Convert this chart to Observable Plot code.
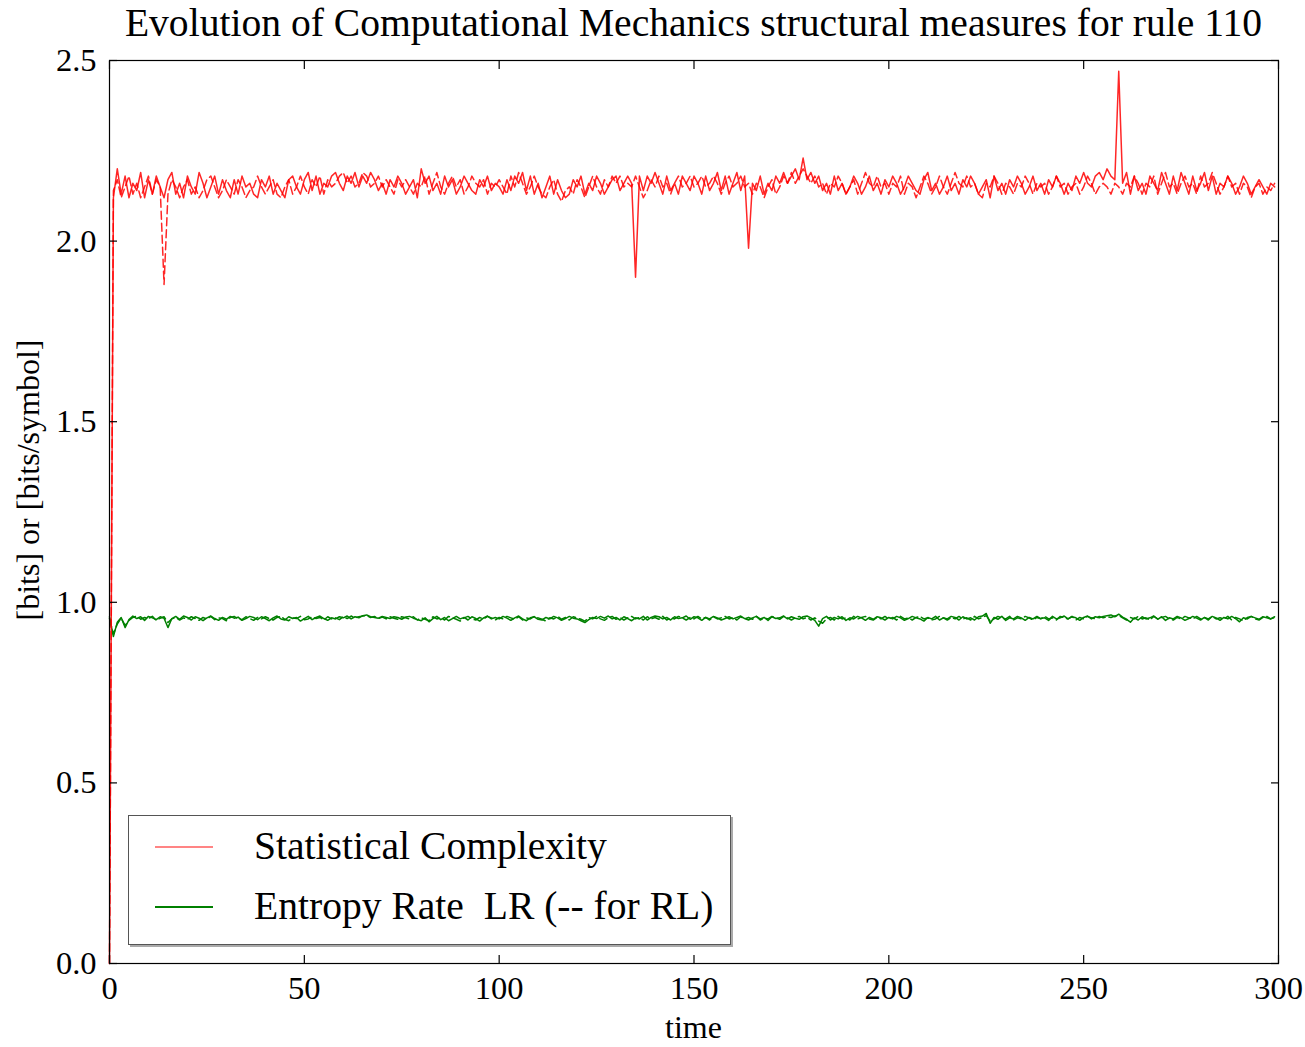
<!DOCTYPE html>
<html><head><meta charset="utf-8">
<script src="https://cdn.jsdelivr.net/npm/d3@7"></script>
<script src="https://cdn.jsdelivr.net/npm/@observablehq/plot@0.6"></script>
<style>
body{margin:0;background:#fff;}
#wrap{position:relative;width:1305px;height:1047px;font-family:"Liberation Serif","Times New Roman",serif;color:#000;overflow:hidden;}
#title{position:absolute;left:109px;width:1169px;top:4px;text-align:center;font-size:39.6px;line-height:39px;white-space:nowrap;}
#chart{position:absolute;left:0;top:50px;}
#xlabel{position:absolute;left:109px;width:1169px;top:1012px;text-align:center;font-size:32px;line-height:31px;}
#ylabel{position:absolute;left:28px;top:480px;transform:translate(-50%,-50%) rotate(-90deg);font-size:32px;line-height:31px;white-space:nowrap;}
#legend{position:absolute;left:128px;top:815px;width:603px;height:130px;border:1.5px solid #555;background:#fff;box-shadow:2px 2px 0 #aaa;box-sizing:border-box;}
.lg-line{position:absolute;left:26px;width:58px;height:0;}
.lg-text{position:absolute;left:125px;font-size:39.6px;line-height:39px;white-space:nowrap;}
</style></head>
<body>
<div id="wrap">
  <div id="title">Evolution of Computational Mechanics structural measures for rule 110</div>
  <div id="chart"></div>
  <div id="xlabel">time</div>
  <div id="ylabel">[bits] or [bits/symbol]</div>
  <div id="legend">
    <div class="lg-line" style="top:30px;border-top:2.5px solid #ff8484;"></div>
    <div class="lg-text" style="top:11px;">Statistical Complexity</div>
    <div class="lg-line" style="top:90px;border-top:2px solid #008000;"></div>
    <div class="lg-text" style="top:71px;">Entropy Rate&nbsp; LR (-- for RL)</div>
  </div>
</div>
<script>
const xTicks = [0, 50, 100, 150, 200, 250, 300];
const yTicks = [0, 0.5, 1.0, 1.5, 2.0, 2.5];

// Statistical complexity, LR (solid)
const complexityLR = [
0.00,2.12,2.20,2.13,2.18,2.12,2.16,2.14,2.19,2.12,2.17,2.13,2.18,2.15,2.12,2.17,2.19,2.13,2.16,2.12,
2.18,2.15,2.13,2.19,2.16,2.12,2.15,2.18,2.13,2.17,2.14,2.12,2.17,2.13,2.18,2.15,2.16,2.13,2.12,2.17,
2.15,2.18,2.13,2.16,2.14,2.12,2.17,2.18,2.15,2.13,2.17,2.19,2.14,2.18,2.13,2.16,2.15,2.18,2.19,2.16,
2.14,2.18,2.16,2.19,2.15,2.18,2.16,2.19,2.17,2.14,2.16,2.13,2.17,2.15,2.18,2.16,2.13,2.15,2.17,2.12,
2.20,2.16,2.18,2.14,2.16,2.13,2.18,2.15,2.17,2.13,2.15,2.18,2.16,2.14,2.13,2.17,2.15,2.18,2.14,2.16,
2.15,2.13,2.17,2.14,2.18,2.16,2.19,2.14,2.18,2.13,2.16,2.12,2.15,2.18,2.13,2.17,2.14,2.12,2.13,2.17,
2.15,2.18,2.13,2.16,2.14,2.18,2.16,2.13,2.15,2.17,2.18,2.14,2.16,2.18,2.16,1.90,2.18,2.14,2.18,2.16,
2.19,2.16,2.13,2.18,2.14,2.16,2.13,2.18,2.16,2.14,2.18,2.16,2.13,2.18,2.14,2.16,2.19,2.14,2.18,2.13,
2.16,2.19,2.14,2.18,1.98,2.16,2.14,2.18,2.13,2.16,2.14,2.18,2.16,2.19,2.16,2.18,2.20,2.17,2.23,2.17,
2.19,2.16,2.18,2.14,2.16,2.13,2.18,2.14,2.16,2.13,2.15,2.18,2.16,2.13,2.15,2.18,2.14,2.16,2.13,2.17,
2.15,2.18,2.16,2.13,2.15,2.18,2.16,2.14,2.13,2.17,2.19,2.14,2.16,2.13,2.15,2.18,2.14,2.16,2.13,2.17,
2.15,2.18,2.16,2.13,2.15,2.17,2.12,2.18,2.14,2.16,2.13,2.17,2.15,2.18,2.16,2.13,2.15,2.18,2.14,2.16,
2.13,2.17,2.15,2.18,2.16,2.13,2.16,2.14,2.18,2.16,2.19,2.16,2.15,2.18,2.19,2.17,2.20,2.18,2.17,2.47,
2.16,2.19,2.13,2.18,2.14,2.16,2.13,2.18,2.16,2.14,2.19,2.16,2.13,2.18,2.14,2.19,2.16,2.13,2.18,2.14,
2.16,2.19,2.14,2.18,2.13,2.16,2.15,2.18,2.16,2.13,2.15,2.18,2.16,2.13,2.15,2.17,2.15,2.13,2.16,2.15
];

// Statistical complexity, RL (dashed)
const complexityRL = [
0.00,2.14,2.17,2.12,2.15,2.18,2.13,2.16,2.12,2.15,2.18,2.13,2.17,2.15,1.88,2.13,2.17,2.15,2.12,2.15,
2.17,2.13,2.15,2.12,2.14,2.17,2.18,2.15,2.12,2.14,2.17,2.15,2.13,2.17,2.15,2.12,2.14,2.15,2.18,2.15,
2.13,2.15,2.17,2.13,2.12,2.15,2.17,2.13,2.15,2.18,2.15,2.13,2.17,2.15,2.18,2.13,2.17,2.15,2.16,2.18,
2.19,2.16,2.18,2.15,2.16,2.19,2.18,2.15,2.16,2.18,2.15,2.17,2.15,2.13,2.17,2.15,2.17,2.15,2.13,2.16,
2.15,2.18,2.13,2.16,2.19,2.15,2.13,2.16,2.18,2.15,2.17,2.13,2.15,2.18,2.16,2.15,2.17,2.13,2.16,2.15,
2.17,2.15,2.13,2.18,2.15,2.19,2.16,2.13,2.15,2.18,2.15,2.13,2.12,2.15,2.17,2.13,2.11,2.14,2.15,2.13,
2.17,2.15,2.12,2.15,2.18,2.15,2.13,2.17,2.15,2.18,2.16,2.18,2.15,2.16,2.15,2.18,2.15,2.12,2.14,2.17,
2.15,2.18,2.15,2.16,2.13,2.16,2.18,2.15,2.16,2.18,2.15,2.16,2.18,2.15,2.16,2.18,2.16,2.13,2.16,2.18,
2.15,2.16,2.18,2.15,2.16,2.13,2.16,2.15,2.12,2.15,2.17,2.13,2.15,2.18,2.16,2.19,2.16,2.18,2.20,2.18,
2.16,2.18,2.15,2.16,2.13,2.16,2.15,2.18,2.16,2.13,2.15,2.17,2.13,2.16,2.19,2.16,2.15,2.18,2.15,2.16,
2.13,2.16,2.15,2.18,2.13,2.16,2.15,2.12,2.15,2.18,2.16,2.13,2.15,2.18,2.15,2.13,2.16,2.19,2.16,2.15,
2.18,2.15,2.16,2.13,2.12,2.16,2.15,2.18,2.16,2.13,2.16,2.15,2.13,2.16,2.15,2.18,2.16,2.13,2.16,2.15,
2.16,2.13,2.15,2.18,2.15,2.16,2.13,2.15,2.16,2.13,2.15,2.18,2.16,2.13,2.15,2.16,2.15,2.13,2.16,2.15,
2.13,2.16,2.15,2.18,2.16,2.13,2.16,2.15,2.18,2.13,2.16,2.19,2.15,2.16,2.13,2.16,2.18,2.15,2.16,2.13,
2.18,2.15,2.16,2.19,2.16,2.13,2.15,2.18,2.15,2.16,2.13,2.16,2.15,2.12,2.15,2.16,2.13,2.15,2.14,2.16
];

// Entropy rate, LR (solid)
const entropyLR = [
0.960,0.905,0.945,0.958,0.930,0.952,0.962,0.955,0.960,0.950,0.961,0.957,0.952,0.960,0.956,0.930,0.955,0.961,0.953,0.962,
0.958,0.951,0.960,0.956,0.949,0.957,0.962,0.955,0.950,0.958,0.953,0.961,0.956,0.959,0.950,0.955,0.961,0.958,0.952,0.960,
0.955,0.949,0.957,0.962,0.954,0.951,0.960,0.955,0.958,0.948,0.955,0.961,0.952,0.958,0.962,0.955,0.950,0.957,0.954,0.960,
0.957,0.962,0.954,0.960,0.957,0.963,0.965,0.960,0.958,0.956,0.961,0.958,0.955,0.960,0.958,0.953,0.959,0.961,0.956,0.952,
0.949,0.957,0.946,0.955,0.961,0.952,0.958,0.949,0.955,0.961,0.954,0.958,0.951,0.960,0.955,0.948,0.957,0.962,0.954,0.958,
0.954,0.961,0.956,0.950,0.957,0.962,0.954,0.949,0.957,0.960,0.953,0.951,0.958,0.954,0.961,0.957,0.950,0.955,0.961,0.956,
0.954,0.949,0.944,0.952,0.958,0.955,0.961,0.956,0.962,0.954,0.958,0.951,0.960,0.955,0.949,0.957,0.954,0.961,0.951,0.958,
0.962,0.960,0.954,0.958,0.951,0.960,0.955,0.957,0.962,0.953,0.960,0.957,0.950,0.958,0.954,0.961,0.957,0.951,0.955,0.960,
0.954,0.958,0.962,0.955,0.951,0.957,0.961,0.954,0.958,0.950,0.960,0.955,0.957,0.962,0.954,0.960,0.956,0.953,0.960,0.962,
0.957,0.950,0.934,0.955,0.961,0.951,0.958,0.954,0.960,0.950,0.957,0.954,0.961,0.957,0.950,0.958,0.953,0.960,0.957,0.951,
0.958,0.954,0.961,0.957,0.950,0.955,0.961,0.957,0.954,0.948,0.958,0.954,0.961,0.951,0.957,0.954,0.961,0.958,0.951,0.960,
0.954,0.957,0.951,0.960,0.962,0.969,0.942,0.958,0.953,0.961,0.950,0.957,0.954,0.961,0.957,0.950,0.958,0.954,0.961,0.955,
0.957,0.950,0.961,0.954,0.957,0.962,0.954,0.960,0.957,0.950,0.958,0.962,0.954,0.960,0.957,0.961,0.963,0.965,0.960,0.967,
0.959,0.953,0.945,0.957,0.951,0.960,0.954,0.957,0.962,0.953,0.960,0.950,0.957,0.954,0.961,0.957,0.950,0.955,0.961,0.956,
0.951,0.958,0.954,0.961,0.957,0.950,0.958,0.954,0.961,0.955,0.946,0.957,0.954,0.961,0.957,0.953,0.960,0.957,0.954,0.960
];

// Entropy rate, RL (dashed)
const entropyRL = [
0.955,0.912,0.940,0.956,0.936,0.950,0.958,0.962,0.953,0.958,0.955,0.961,0.950,0.956,0.960,0.944,0.954,0.958,0.951,0.957,
0.953,0.960,0.955,0.950,0.958,0.954,0.961,0.952,0.957,0.955,0.949,0.958,0.961,0.954,0.952,0.960,0.955,0.950,0.958,0.954,
0.960,0.955,0.951,0.958,0.961,0.953,0.949,0.957,0.955,0.961,0.952,0.954,0.960,0.955,0.958,0.951,0.960,0.954,0.957,0.952,
0.960,0.955,0.962,0.957,0.960,0.962,0.963,0.958,0.961,0.955,0.959,0.954,0.960,0.956,0.953,0.960,0.957,0.954,0.960,0.951,
0.957,0.953,0.949,0.960,0.954,0.957,0.951,0.961,0.957,0.953,0.948,0.957,0.961,0.954,0.951,0.958,0.954,0.961,0.957,0.951,
0.958,0.954,0.961,0.957,0.953,0.960,0.951,0.957,0.954,0.961,0.957,0.953,0.948,0.957,0.954,0.961,0.953,0.958,0.951,0.960,
0.957,0.953,0.948,0.958,0.954,0.961,0.954,0.950,0.957,0.961,0.953,0.958,0.951,0.957,0.961,0.954,0.958,0.951,0.960,0.954,
0.958,0.953,0.961,0.951,0.957,0.954,0.961,0.957,0.951,0.958,0.954,0.961,0.954,0.958,0.951,0.960,0.954,0.957,0.961,0.954,
0.957,0.951,0.960,0.954,0.958,0.953,0.961,0.951,0.957,0.954,0.961,0.957,0.953,0.961,0.957,0.951,0.957,0.961,0.954,0.958,
0.951,0.957,0.948,0.942,0.954,0.958,0.951,0.961,0.954,0.957,0.951,0.961,0.954,0.958,0.961,0.954,0.951,0.958,0.954,0.961,
0.954,0.958,0.951,0.961,0.954,0.957,0.951,0.958,0.961,0.954,0.957,0.951,0.954,0.961,0.957,0.951,0.958,0.954,0.961,0.954,
0.957,0.951,0.961,0.954,0.958,0.963,0.948,0.954,0.961,0.957,0.954,0.961,0.951,0.957,0.954,0.961,0.957,0.951,0.958,0.954,
0.961,0.954,0.957,0.951,0.961,0.957,0.954,0.961,0.951,0.958,0.954,0.961,0.957,0.954,0.961,0.957,0.960,0.958,0.962,0.964,
0.957,0.951,0.958,0.954,0.961,0.954,0.957,0.951,0.961,0.954,0.958,0.961,0.954,0.951,0.958,0.954,0.961,0.957,0.954,0.961,
0.954,0.958,0.951,0.961,0.954,0.957,0.954,0.961,0.951,0.958,0.954,0.949,0.958,0.961,0.954,0.951,0.958,0.961,0.954,0.958
];

const time = complexityLR.map((_, i) => i);
const fmtY = d3.format(".1f");

const chart = Plot.plot({
  width: 1305,
  height: 997,
  marginTop: 10,
  marginBottom: 84,
  marginLeft: 109,
  marginRight: 27,
  style: {fontFamily: '"Liberation Serif", "Times New Roman", serif', fontSize: "32.5px", background: "white", color: "black", overflow: "visible"},
  x: {domain: [0, 300], label: null},
  y: {domain: [0, 2.5], label: null},
  marks: [
    Plot.line(time, {x: t => t, y: t => entropyRL[t], stroke: "#008000", strokeWidth: 1.5, strokeDasharray: "8,4"}),
    Plot.line(time, {x: t => t, y: t => entropyLR[t], stroke: "#008000", strokeWidth: 1.5}),
    Plot.line(time, {x: t => t, y: t => complexityRL[t], stroke: "#ff0000", strokeOpacity: 0.85, strokeWidth: 1.5, strokeDasharray: "8,4"}),
    Plot.line(time, {x: t => t, y: t => complexityLR[t], stroke: "#ff0000", strokeOpacity: 0.85, strokeWidth: 1.5}),
    Plot.frame({stroke: "black", strokeWidth: 1.2}),
    Plot.axisX(xTicks, {anchor: "bottom", tickSize: 0, tickPadding: 12, label: null, fontSize: 32.5}),
    Plot.axisX(xTicks, {anchor: "bottom", tickSize: -8, tickFormat: () => "", label: null, strokeWidth: 1.2}),
    Plot.axisX(xTicks, {anchor: "top", tickSize: -8, tickFormat: () => "", label: null, strokeWidth: 1.2}),
    Plot.axisY(yTicks, {anchor: "left", tickSize: 0, tickPadding: 13, tickFormat: fmtY, label: null, fontSize: 32.5}),
    Plot.axisY(yTicks, {anchor: "left", tickSize: -8, tickFormat: () => "", label: null, strokeWidth: 1.2}),
    Plot.axisY(yTicks, {anchor: "right", tickSize: -8, tickFormat: () => "", label: null, strokeWidth: 1.2})
  ]
});
document.getElementById("chart").appendChild(chart);
</script>
</body></html>
